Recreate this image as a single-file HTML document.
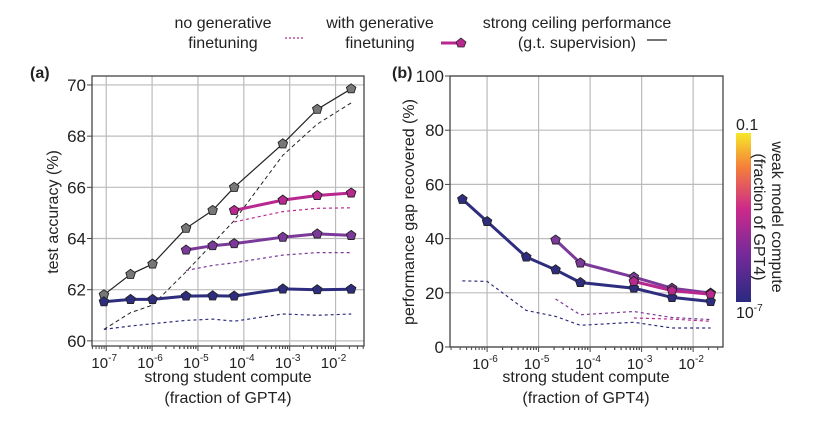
<!DOCTYPE html>
<html><head><meta charset="utf-8"><style>
body{margin:0;background:#fff;}
svg text{font-family:"Liberation Sans",sans-serif;fill:#222;}
</style></head><body>
<svg id="chart" width="816" height="442" viewBox="0 0 816 442" xmlns="http://www.w3.org/2000/svg">
<defs>
<linearGradient id="cb" x1="0" y1="1" x2="0" y2="0">
<stop offset="0" stop-color="#2a2a80"/><stop offset="0.3" stop-color="#7a2a9a"/><stop offset="0.55" stop-color="#cc2a8a"/><stop offset="0.8" stop-color="#f5803a"/><stop offset="1" stop-color="#f5e82a"/>
</linearGradient>
</defs>
<g>
<text x="223" y="28" font-size="16" text-anchor="middle">no generative</text>
<text x="223" y="48" font-size="16" text-anchor="middle">finetuning</text>
<line x1="285" y1="38" x2="303" y2="38" stroke="#b03090" stroke-dasharray="2,2" stroke-width="1.2"/>
<text x="380" y="28" font-size="16" text-anchor="middle">with generative</text>
<text x="380" y="48" font-size="16" text-anchor="middle">finetuning</text>
<line x1="441" y1="43" x2="460" y2="43" stroke="#b8288f" stroke-width="3"/>
<polygon points="461,38 466,42 464,47 458,47 456,42" fill="#b8288f" stroke="#222" stroke-width="0.8"/>
<text x="577" y="28" font-size="16" text-anchor="middle">strong ceiling performance</text>
<text x="577" y="48" font-size="16" text-anchor="middle">(g.t. supervision)</text>
<line x1="647" y1="40" x2="667" y2="40" stroke="#222" stroke-width="1.2"/>
</g>
<text x="30" y="78" font-size="16" font-weight="bold">(a)</text>
<text x="392" y="78" font-size="16" font-weight="bold">(b)</text>
<text transform="translate(58,212) rotate(-90)" font-size="16" text-anchor="middle">test accuracy (%)</text>
<text transform="translate(414,212) rotate(-90)" font-size="16" text-anchor="middle">performance gap recovered (%)</text>
<text x="228" y="382" font-size="16" text-anchor="middle">strong student compute</text>
<text x="228" y="403" font-size="16" text-anchor="middle">(fraction of GPT4)</text>
<text x="586" y="382" font-size="16" text-anchor="middle">strong student compute</text>
<text x="586" y="403" font-size="16" text-anchor="middle">(fraction of GPT4)</text>
<g>
<rect x="736" y="133" width="15" height="169" fill="url(#cb)"/>
<text x="736" y="130" font-size="16">0.1</text>
<text x="736" y="318" font-size="16">10<tspan font-size="10" dy="-7">-7</tspan></text>
<text transform="translate(772,217) rotate(90)" font-size="16" text-anchor="middle">weak model compute</text>
<text transform="translate(754,217) rotate(90)" font-size="16" text-anchor="middle">(fraction of GPT4)</text>
</g>
<g id="pa"></g><g id="pb"></g>
</svg>
<script>
// shared x positions (log10 of strong student compute)
const xA = [-7.05,-6.47,-5.99,-5.26,-4.68,-4.21,-3.15,-2.40,-1.66];
const xB = [-6.48,-6.0,-5.24,-4.67,-4.19,-3.15,-2.41,-1.66];
// panel a
const ceilA = [61.8,62.6,63.0,64.4,65.1,66.0,67.7,69.05,69.85];
const ceilDashA = [60.45,61.1,61.4,62.7,63.8,64.7,67.25,68.47,69.3];
const blueA = [61.53,61.62,61.62,61.75,61.76,61.75,62.03,62.0,62.02];
const blueDashA = [60.45,60.58,60.67,60.8,60.85,60.77,61.05,61.0,61.05];
const purpA = [63.55,63.72,63.8,64.05,64.18,64.12];
const purpDashA = [62.75,62.95,63.05,63.35,63.45,63.45];
const pinkA = [65.1,65.5,65.68,65.78];
const pinkDashA = [64.65,65.05,65.18,65.2];
const yTicksA = [60,62,64,66,68,70];
// panel b
const blueB = [54.5,46.3,33.2,28.5,23.8,21.7,18.3,16.8];
const blueDashB = [24.4,24.2,13.5,11.3,8.0,9.1,7.0,7.0];
const purpB = [39.5,31,25.8,21.7,19.9];
const purpDashB = [17.7,11.9,13.1,10.9,10.1];
const pinkB = [24.2,20.8,19.5];
const pinkDashB = [10.7,10.3,9.5];
const yTicksB = [0,20,40,60,80,100];
const xTicks = [-7,-6,-5,-4,-3,-2];

const NS="http://www.w3.org/2000/svg";
function mk(p,tag,at){const e=document.createElementNS(NS,tag);for(const k in at)e.setAttribute(k,at[k]);p.appendChild(e);return e;}
const BLUE="#2e2d7e",PURP="#7b3a9a",PINK="#b8288f",GRAY="#777";

function panel(g,box,xd,yd,yTicks,xTickList){
  const sx=v=>box.l+(v-xd[0])/(xd[1]-xd[0])*(box.r-box.l);
  const sy=v=>box.b-(v-yd[0])/(yd[1]-yd[0])*(box.b-box.t);
  xTickList.forEach(t=>{
    const gl=mk(g,'line',{x1:sx(t),x2:sx(t),y1:box.t,y2:box.b,stroke:'#bbb','stroke-width':1.2});
    
    
    for(let k=2;k<10;k++){const v=t+Math.log10(k);if(v<xd[1]){const ml=mk(g,'line',{x1:sx(v),x2:sx(v),y1:box.b,y2:box.b+3,stroke:'#444'});}}
    for(let k=2;k<10;k++){const v=t-1+Math.log10(k);if(v>xd[0]){mk(g,'line',{x1:sx(v),x2:sx(v),y1:box.b,y2:box.b+3,stroke:'#444'});}}
    mk(g,'line',{x1:sx(t),x2:sx(t),y1:box.b,y2:box.b+5,stroke:'#444'});
    const tx=mk(g,'text',{x:sx(t)-2,y:box.b+22,'font-size':15,'text-anchor':'middle'});
    
    
    tx.innerHTML='10<tspan font-size="10" dy="-7">'+t+'</tspan>';
  });
  yTicks.forEach(t=>{
    const gl=mk(g,'line',{x1:box.l,x2:box.r,y1:sy(t),y2:sy(t),stroke:'#bbb','stroke-width':1.2});
    
    
    mk(g,'line',{x1:box.l-5,x2:box.l,y1:sy(t),y2:sy(t),stroke:'#444'});
    const tx=mk(g,'text',{x:box.l-6,y:sy(t)+6,'font-size':17,'text-anchor':'end'});
    
    
    tx.textContent=t;
  });
  const fr=mk(g,'rect',{x:box.l,y:box.t,width:box.r-box.l,height:box.b-box.t,fill:'none',stroke:'#444','stroke-width':1.3});
  
  
  return {sx,sy};
}
function pent(g,x,y,fill){
  const pts=[];for(let i=0;i<5;i++){const a=-Math.PI/2+i*2*Math.PI/5;pts.push((x+5*Math.cos(a)).toFixed(1)+','+(y+5*Math.sin(a)).toFixed(1));}
  const p=mk(g,'polygon',{points:pts.join(' '),fill:fill,stroke:'#222','stroke-width':0.9});
  
  
}
function series(g,s,xs,ys,color,opt,name){
  const off=xs.length-ys.length;
  const d=ys.map((v,i)=>(i?'L':'M')+s.sx(xs[i+off]).toFixed(1)+','+s.sy(v).toFixed(1)).join(' ');
  const p=mk(g,'path',{d:d,fill:'none',stroke:color,'stroke-width':opt.w,'stroke-dasharray':opt.dash||'none'});
  
  
  if(opt.marker) ys.forEach((v,i)=>pent(g,s.sx(xs[i+off]),s.sy(v),opt.marker));
}
const ga=document.getElementById('pa');


const sa=panel(ga,{l:92,r:364,t:76,b:346},[-7.31,-1.38],[59.8,70.35],yTicksA,xTicks);
series(ga,sa,xA,ceilDashA,'#222',{w:1,dash:'4,3'},'ceiling-dashed-line');
series(ga,sa,xA,blueDashA,BLUE,{w:1.2,dash:'3,3'},'blue-dashed-line');
series(ga,sa,xA,purpDashA,PURP,{w:1.2,dash:'3,3'},'purple-dashed-line');
series(ga,sa,xA,pinkDashA,PINK,{w:1.2,dash:'3,3'},'pink-dashed-line');
series(ga,sa,xA,ceilA,'#222',{w:1.2,marker:GRAY},'ceiling-line');
series(ga,sa,xA,blueA,BLUE,{w:3,marker:BLUE},'blue-line');
series(ga,sa,xA,purpA,PURP,{w:3,marker:PURP},'purple-line');
series(ga,sa,xA,pinkA,PINK,{w:3,marker:PINK},'pink-line');

const gb=document.getElementById('pb');


const sb=panel(gb,{l:450,r:723,t:76,b:347},[-6.72,-1.42],[0,100],yTicksB,xTicks.slice(1));
series(gb,sb,xB,blueDashB,BLUE,{w:1.2,dash:'3,3'},'blue-dashed-line');
series(gb,sb,xB,purpDashB,PURP,{w:1.2,dash:'3,3'},'purple-dashed-line');
series(gb,sb,xB,pinkDashB,PINK,{w:1.2,dash:'3,3'},'pink-dashed-line');
series(gb,sb,xB,blueB,BLUE,{w:3,marker:BLUE},'blue-line');
series(gb,sb,xB,purpB,PURP,{w:3,marker:PURP},'purple-line');
series(gb,sb,xB,pinkB,PINK,{w:3,marker:PINK},'pink-line');
</script>
</body></html>
